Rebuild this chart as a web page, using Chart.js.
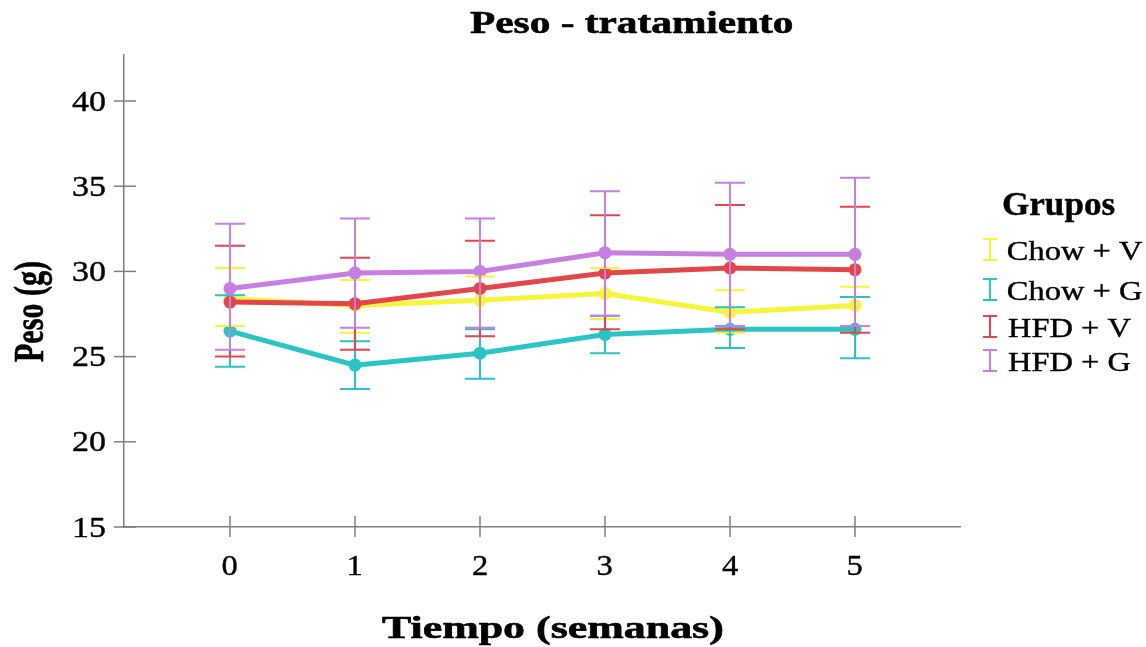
<!DOCTYPE html>
<html>
<head>
<meta charset="utf-8">
<script src="https://cdn.jsdelivr.net/npm/chart.js@4.4.1/dist/chart.umd.min.js"></script>
<style>
  html, body { margin: 0; padding: 0; background: #fff; }
  #wrap { width: 1146px; height: 647px; position: relative; }
</style>
</head>
<body>
<div id="wrap"><canvas id="chart"></canvas></div>
<script>
// ====================
// DATA
// ====================
const weeks = [0, 1, 2, 3, 4, 5];
const yTicks = [15, 20, 25, 30, 35, 40];
const groupNames = ["Chow + V", "Chow + G", "HFD + V", "HFD + G"];

const chowV     = [28.4, 28.0, 28.3, 28.7, 27.6, 28.0];
const chowVLow  = [26.8, 26.4, 26.7, 27.2, 26.4, 26.8];
const chowVHigh = [30.2, 29.5, 29.7, 30.2, 28.9, 29.1];

const chowG     = [26.5, 24.5, 25.2, 26.3, 26.6, 26.6];
const chowGLow  = [24.4, 23.1, 23.7, 25.2, 25.5, 24.9];
const chowGHigh = [28.6, 25.9, 26.6, 27.4, 27.9, 28.5];

const hfdV      = [28.2, 28.1, 29.0, 29.9, 30.2, 30.1];
const hfdVLow   = [25.0, 25.4, 26.2, 26.6, 26.6, 26.4];
const hfdVHigh  = [31.5, 30.8, 31.8, 33.3, 33.9, 33.8];

const hfdG      = [29.0, 29.9, 30.0, 31.1, 31.0, 31.0];
const hfdGLow   = [25.4, 26.7, 26.7, 27.4, 26.8, 26.8];
const hfdGHigh  = [32.8, 33.1, 33.1, 34.7, 35.2, 35.5];

const colors = ["#f5f53a", "#2ac4c4", "#e3464a", "#c57fe1"];

const FAMILY = '"Liberation Serif", "Times New Roman", serif';
const AXIS = "#7f7f7f";

// draw text so that its ink has a given cap height and (optionally) ink width
function fitText(ctx, text, o) {
  const weight = o.bold ? "bold " : "";
  ctx.font = weight + "100px " + FAMILY;
  const capRatio = ctx.measureText("H").actualBoundingBoxAscent / 100;
  const size = o.cap / capRatio;
  ctx.font = weight + size + "px " + FAMILY;
  const m = ctx.measureText(text);
  const inkW = m.actualBoundingBoxLeft + m.actualBoundingBoxRight;
  const sx = o.width ? o.width / inkW : (o.sx || 1);
  let lx = 0;
  if (o.align === "center") lx = -sx * inkW / 2;
  if (o.align === "right") lx = -sx * inkW;
  ctx.save();
  ctx.translate(o.x, o.y);
  if (o.rot) ctx.rotate(o.rot);
  ctx.translate(lx, 0);
  ctx.scale(sx, 1);
  ctx.fillStyle = o.color || "#000";
  ctx.strokeStyle = o.color || "#000";
  ctx.textAlign = "left";
  ctx.textBaseline = "alphabetic";
  ctx.fillText(text, m.actualBoundingBoxLeft, 0);
  if (o.thick) {
    ctx.lineWidth = o.thick;
    ctx.lineJoin = "round";
    ctx.strokeText(text, m.actualBoundingBoxLeft, 0);
  }
  ctx.restore();
  return sx;
}

function toPoints(vals) {
  return weeks.map((w, i) => ({ x: w, y: vals[i] }));
}

// ====================
// PLUGINS
// ====================
const axisTicks = {
  id: "axisTicks",
  beforeDatasetsDraw(chart) {
    const { ctx, scales: { x, y } } = chart;
    ctx.save();
    ctx.strokeStyle = AXIS;
    ctx.lineWidth = 1.5;
    y.ticks.forEach(t => {
      const py = y.getPixelForValue(t.value);
      ctx.beginPath();
      ctx.moveTo(x.left - 10, py);
      ctx.lineTo(x.left + 12, py);
      ctx.stroke();
    });
    x.ticks.forEach(t => {
      const px = x.getPixelForValue(t.value);
      ctx.beginPath();
      ctx.moveTo(px, y.bottom - 11);
      ctx.lineTo(px, y.bottom + 10);
      ctx.stroke();
    });
    ctx.restore();
  }
};

const errorBars = {
  id: "errorBars",
  afterDatasetsDraw(chart) {
    const { ctx, scales: { x, y } } = chart;
    ctx.save();
    ctx.lineWidth = 2;
    chart.data.datasets.forEach(ds => {
      ctx.strokeStyle = ds.borderColor;
      weeks.forEach((w, i) => {
        const px = x.getPixelForValue(w);
        const lo = y.getPixelForValue(ds.errLow[i]);
        const hi = y.getPixelForValue(ds.errHigh[i]);
        ctx.beginPath();
        ctx.moveTo(px, lo); ctx.lineTo(px, hi);
        ctx.moveTo(px - 15, lo); ctx.lineTo(px + 15, lo);
        ctx.moveTo(px - 15, hi); ctx.lineTo(px + 15, hi);
        ctx.stroke();
      });
    });
    ctx.restore();
  }
};

const labels = {
  id: "labels",
  afterDraw(chart) {
    const { ctx, scales: { x, y } } = chart;

    // tick labels
    const sxTick = fitText(ctx, "40", { cap: 19.3, x: -999, y: -999, width: 33 });
    y.ticks.forEach(t => {
      const py = y.getPixelForValue(t.value);
      fitText(ctx, String(t.value), { cap: 19.3, x: 105, y: py + 9.6, align: "right", sx: sxTick, thick: 0.4 });
    });
    x.ticks.forEach(t => {
      const px = x.getPixelForValue(t.value);
      fitText(ctx, String(t.value), { cap: 18.5, x: px, y: 575, align: "center", sx: sxTick, thick: 0.4 });
    });

    // titles
    fitText(ctx, "Peso - tratamiento", { bold: true, cap: 20, x: 470, y: 33, width: 323, thick: 0.6 });
    fitText(ctx, "Tiempo (semanas)", { bold: true, cap: 20, x: 382, y: 638, width: 340, thick: 0.6 });
    fitText(ctx, "Peso (g)", { bold: true, cap: 28, x: 43, y: 362, width: 100, rot: -Math.PI / 2, thick: 0.6 });

    // legend
    fitText(ctx, "Grupos", { bold: true, cap: 22, x: 1003, y: 215, width: 112, thick: 0.4 });
    const sxLeg = fitText(ctx, "Chow + G", { cap: 18.3, x: -999, y: -999, width: 134 });
    const baselines = [260, 300, 337, 371];
    chart.data.datasets.forEach((ds, k) => {
      const by = baselines[k];
      ctx.save();
      ctx.strokeStyle = ds.borderColor;
      ctx.lineWidth = 2;
      ctx.beginPath();
      ctx.moveTo(990, by - 21); ctx.lineTo(990, by);
      ctx.moveTo(983, by - 21); ctx.lineTo(997, by - 21);
      ctx.moveTo(983, by); ctx.lineTo(997, by);
      ctx.stroke();
      ctx.restore();
      fitText(ctx, ds.label, { cap: 18.3, x: 1008, y: by, sx: sxLeg, thick: 0.4 });
    });
  }
};

// ====================
// CHART
// ====================
const seriesVals = [chowV, chowG, hfdV, hfdG];
const seriesLow = [chowVLow, chowGLow, hfdVLow, hfdGLow];
const seriesHigh = [chowVHigh, chowGHigh, hfdVHigh, hfdGHigh];

const datasets = groupNames.map((name, k) => ({
  label: name,
  data: toPoints(seriesVals[k]),
  errLow: seriesLow[k],
  errHigh: seriesHigh[k],
  borderColor: colors[k],
  backgroundColor: colors[k],
  borderWidth: 5,
  pointRadius: 6.5,
  pointBorderWidth: 0,
  pointBackgroundColor: colors[k],
  tension: 0,
  order: 4 - k
}));

new Chart(document.getElementById("chart"), {
  type: "line",
  data: { datasets },
  options: {
    responsive: true,
    maintainAspectRatio: false,
    animation: false,
    layout: { padding: { top: 55, right: 186, left: 0, bottom: 0 } },
    plugins: {
      legend: { display: false },
      tooltip: { enabled: false },
      title: { display: false }
    },
    scales: {
      x: {
        type: "linear",
        min: -0.848,
        max: 5.84,
        grid: { display: false },
        border: { display: true, color: AXIS, width: 1.5 },
        ticks: { display: false, stepSize: 1 },
        afterBuildTicks: s => { s.ticks = weeks.map(w => ({ value: w })); },
        afterFit: s => { s.height = 120; }
      },
      y: {
        min: 15,
        max: 42.7,
        grid: { display: false },
        border: { display: true, color: AXIS, width: 1.5 },
        ticks: { display: false, stepSize: 5 },
        afterBuildTicks: s => { s.ticks = yTicks.map(v => ({ value: v })); },
        afterFit: s => { s.width = 124; }
      }
    }
  },
  plugins: [axisTicks, errorBars, labels]
});
</script>
</body>
</html>
